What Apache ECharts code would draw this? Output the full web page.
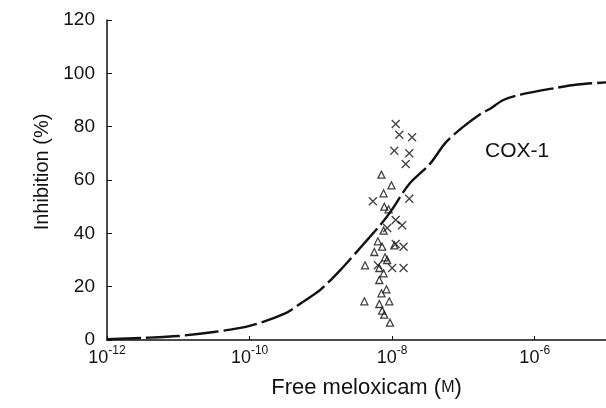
<!DOCTYPE html>
<html>
<head>
<meta charset="utf-8">
<script src="https://cdn.jsdelivr.net/npm/echarts@6/dist/echarts.min.js"></script>
<style>html,body{margin:0;padding:0;background:#fff;}#c{width:606px;height:408px;}</style>
</head>
<body>
<div id="c"></div>
<script>
// Curve: log10 concentration (M) and % inhibition
var curveLogX = [-12.0, -11.5, -11.0, -10.5, -10.0, -9.5, -9.27, -9.0, -8.7, -8.4, -8.14, -8.0, -7.76, -7.47, -7.25, -7.0, -6.75, -6.63, -6.44, -6.2, -5.71, -5.4, -5.0];
var curveY    = [0.3, 0.8, 1.5, 3.0, 5.3, 10, 14, 19, 27, 36, 44, 49, 58.5, 66, 74, 80, 85, 86.6, 90, 92, 94.5, 95.8, 96.6];

// Crosses (×)
var crossLogX = [-7.95, -7.90, -7.72, -7.97, -7.76, -7.81, -8.27, -7.76, -7.95, -8.07, -7.86, -7.84, -7.95, -8.00, -7.84, -8.20];
var crossY    = [81, 77, 76, 71, 70, 66, 52, 53, 45, 42, 43, 35, 36, 27, 27, 28];

// Triangles (△)
var triLogX = [-8.15, -8.01, -8.12, -8.11, -8.05, -8.12, -8.20, -8.14, -7.97, -8.25, -8.10, -8.38, -8.18, -8.07, -8.12, -8.18, -8.08, -8.15, -8.04, -8.39, -8.18, -8.14, -8.11, -8.03];
var triY    = [62, 58, 55, 50, 49, 41, 37, 35, 35.5, 33, 31, 28, 27, 30, 25, 22.5, 19, 17.5, 14.5, 14.5, 13.5, 11, 9.5, 6.5];

// Tick labels
var xTickExps = [-12, -10, -8, -6];
var yTicks = [0, 20, 40, 60, 80, 100, 120];

function toPairs(lx, ys) {
  return lx.map(function (v, i) { return [Math.pow(10, v), ys[i]]; });
}

var font = '"Liberation Sans", Arial, Helvetica, sans-serif';
var chart = echarts.init(document.getElementById('c'), null, {renderer: 'canvas'});
chart.setOption({
  backgroundColor: '#fff',
  animation: false,
  grid: {left: 107, right: 0, top: 20, bottom: 68, containLabel: false},
  xAxis: {
    type: 'log',
    logBase: 10,
    min: 1e-12,
    max: 1e-5,
    interval: 2,
    name: 'Free meloxicam ({sc|M})',
    nameLocation: 'middle',
    nameGap: 37,
    nameTextStyle: {
      fontFamily: font, fontSize: 22, color: '#111', padding: [0, 0, 0, 20],
      rich: {sc: {fontFamily: font, fontSize: 16, color: '#111'}}
    },
    axisLine: {show: true, lineStyle: {color: '#111', width: 1.5}},
    axisTick: {show: true, inside: true, length: 4, lineStyle: {color: '#111'},
      customValues: xTickExps.map(function (e) { return Math.pow(10, e); })},
    splitLine: {show: false},
    minorTick: {show: false},
    axisLabel: {
      margin: 5,
      color: '#111',
      customValues: xTickExps.map(function (e) { return Math.pow(10, e); }),
      formatter: function (v) {
        var e = Math.round(Math.log10(v));
        return '{b|10}{s|' + (e < 0 ? '-' : '') + Math.abs(e) + '}';
      },
      rich: {
        b: {fontFamily: font, fontSize: 18, color: '#111', lineHeight: 22, verticalAlign: 'bottom'},
        s: {fontFamily: font, fontSize: 12, color: '#111', lineHeight: 22, verticalAlign: 'top', padding: [0, 0, 8, 0]}
      }
    }
  },
  yAxis: {
    type: 'value',
    min: 0,
    max: 120,
    interval: 20,
    name: 'Inhibition (%)',
    nameLocation: 'middle',
    nameGap: 55,
    nameTextStyle: {fontFamily: font, fontSize: 20, color: '#111', padding: [0, 0, 0, 16]},
    axisLine: {show: true, lineStyle: {color: '#111', width: 1.5}},
    axisTick: {show: true, inside: true, length: 5, lineStyle: {color: '#111'}},
    splitLine: {show: false},
    axisLabel: {
      margin: 12, color: '#111', fontFamily: font, fontSize: 19,
      customValues: yTicks
    }
  },
  graphic: [{
    type: 'text', left: 485, top: 141,
    style: {text: 'COX-1', font: '21px ' + font, fill: '#111'}
  }],
  series: [
    {
      type: 'line', data: toPairs(curveLogX, curveY), smooth: 0.3,
      showSymbol: false, symbol: 'none',
      lineStyle: {color: '#111', width: 2.4, type: [34, 5]},
      z: 2
    },
    {
      type: 'scatter', data: toPairs(crossLogX, crossY),
      symbol: 'path://M0,0L10,10M10,0L0,10', symbolSize: 8,
      itemStyle: {color: 'none', borderColor: '#111', borderWidth: 1.3},
      z: 3
    },
    {
      type: 'scatter', data: toPairs(triLogX, triY),
      symbol: 'triangle', symbolSize: 7,
      itemStyle: {color: 'rgba(255,255,255,0)', borderColor: '#111', borderWidth: 1.3},
      z: 3
    }
  ]
});
</script>
</body>
</html>
